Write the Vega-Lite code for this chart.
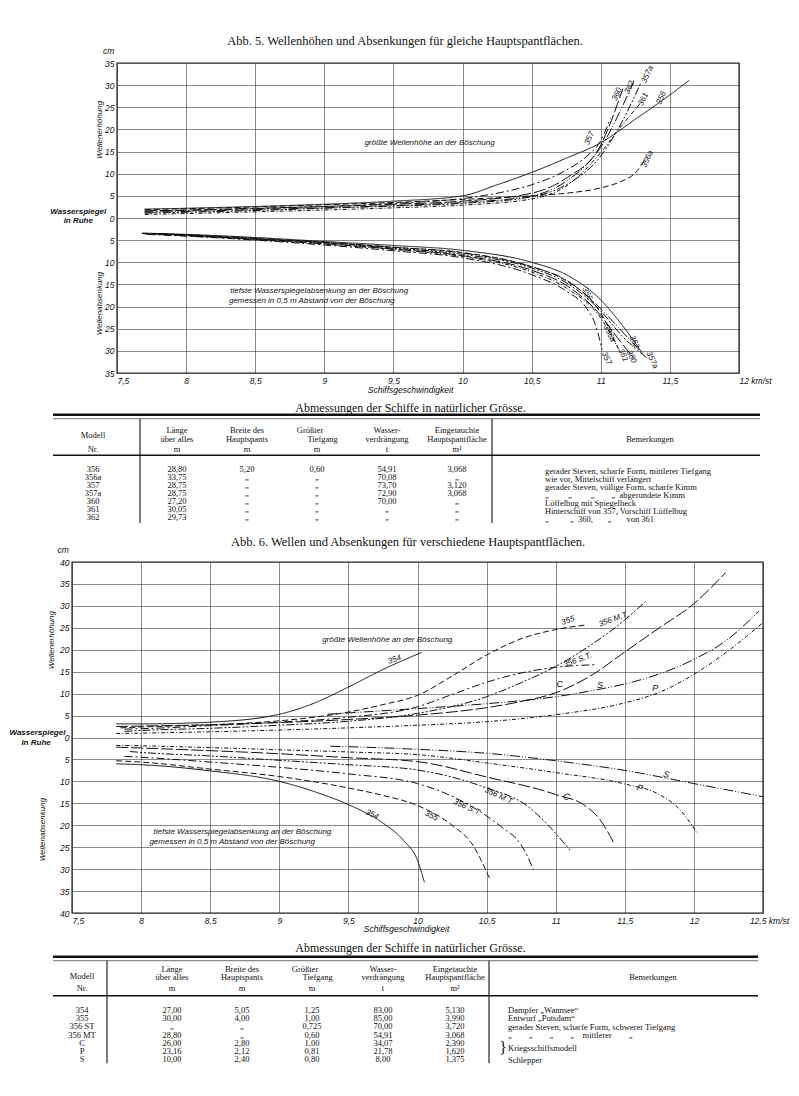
{
"$schema":"https://vega.github.io/schema/vega-lite/v6.json",
"background":"white","padding":0,"spacing":0,"bounds":"flush",
"config":{"view":{"stroke":null},
"title":{"font":"Liberation Serif","fontSize":12.5,"fontWeight":"normal","color":"#111"},
"axis":{"grid":true,"gridColor":"#3a3a3a","gridWidth":0.6,"domain":false,"ticks":false,"labelFont":"Liberation Sans","labelFontStyle":"italic","labelFontSize":8.5,"labelColor":"#111","labelPadding":3,"titleFont":"Liberation Sans","titleFontStyle":"italic","titleFontWeight":"normal","titleFontSize":8.5,"titleColor":"#111"},
"text":{"font":"Liberation Sans","fontStyle":"italic","fontSize":8,"color":"#111"}},
"datasets":{
"c1":[
{"m":"356","p":"u","v":7.7,"h":2.0},{"m":"356","p":"u","v":8,"h":2.2},{"m":"356","p":"u","v":8.5,"h":2.6},{"m":"356","p":"u","v":9,"h":3.1},{"m":"356","p":"u","v":9.5,"h":3.8},{"m":"356","p":"u","v":10,"h":5.0},{"m":"356","p":"u","v":10.25,"h":7.5},{"m":"356","p":"u","v":10.5,"h":10.3},{"m":"356","p":"u","v":10.75,"h":13.5},{"m":"356","p":"u","v":11,"h":17.0},{"m":"356","p":"u","v":11.25,"h":22.3},{"m":"356","p":"u","v":11.5,"h":27.8},{"m":"356","p":"u","v":11.64,"h":31.1},
{"m":"356a","p":"u","v":7.7,"h":1.9},{"m":"356a","p":"u","v":8,"h":2.1},{"m":"356a","p":"u","v":8.5,"h":2.5},{"m":"356a","p":"u","v":9,"h":3.0},{"m":"356a","p":"u","v":9.5,"h":3.5},{"m":"356a","p":"u","v":10,"h":4.2},{"m":"356a","p":"u","v":10.5,"h":5.0},{"m":"356a","p":"u","v":10.75,"h":5.6},{"m":"356a","p":"u","v":11,"h":6.8},{"m":"356a","p":"u","v":11.15,"h":8.3},{"m":"356a","p":"u","v":11.25,"h":10.2},{"m":"356a","p":"u","v":11.33,"h":13.8},
{"m":"357","p":"u","v":7.7,"h":1.5},{"m":"357","p":"u","v":8,"h":1.7},{"m":"357","p":"u","v":8.5,"h":2.1},{"m":"357","p":"u","v":9,"h":2.6},{"m":"357","p":"u","v":9.5,"h":3.3},{"m":"357","p":"u","v":10,"h":4.4},{"m":"357","p":"u","v":10.25,"h":5.6},{"m":"357","p":"u","v":10.5,"h":7.5},{"m":"357","p":"u","v":10.75,"h":10.8},{"m":"357","p":"u","v":10.9,"h":14.0},{"m":"357","p":"u","v":11,"h":17.5},{"m":"357","p":"u","v":11.07,"h":22.5},
{"m":"357a","p":"u","v":7.7,"h":1.1},{"m":"357a","p":"u","v":8,"h":1.3},{"m":"357a","p":"u","v":8.5,"h":1.7},{"m":"357a","p":"u","v":9,"h":2.2},{"m":"357a","p":"u","v":9.5,"h":2.7},{"m":"357a","p":"u","v":10,"h":3.3},{"m":"357a","p":"u","v":10.5,"h":4.8},{"m":"357a","p":"u","v":10.75,"h":7.5},{"m":"357a","p":"u","v":11,"h":14.0},{"m":"357a","p":"u","v":11.15,"h":21.5},{"m":"357a","p":"u","v":11.29,"h":30.5},
{"m":"360","p":"u","v":7.7,"h":1.6},{"m":"360","p":"u","v":8,"h":1.8},{"m":"360","p":"u","v":8.5,"h":2.2},{"m":"360","p":"u","v":9,"h":2.6},{"m":"360","p":"u","v":9.5,"h":3.1},{"m":"360","p":"u","v":10,"h":3.8},{"m":"360","p":"u","v":10.5,"h":5.6},{"m":"360","p":"u","v":10.75,"h":9.0},{"m":"360","p":"u","v":11,"h":16.5},{"m":"360","p":"u","v":11.16,"h":29.2},
{"m":"361","p":"u","v":7.7,"h":0.8},{"m":"361","p":"u","v":8,"h":1.0},{"m":"361","p":"u","v":8.5,"h":1.4},{"m":"361","p":"u","v":9,"h":1.8},{"m":"361","p":"u","v":9.5,"h":2.3},{"m":"361","p":"u","v":10,"h":2.9},{"m":"361","p":"u","v":10.5,"h":4.3},{"m":"361","p":"u","v":10.75,"h":7.2},{"m":"361","p":"u","v":11,"h":14.8},{"m":"361","p":"u","v":11.15,"h":20.8},{"m":"361","p":"u","v":11.3,"h":26.4},
{"m":"362","p":"u","v":7.7,"h":1.3},{"m":"362","p":"u","v":8,"h":1.5},{"m":"362","p":"u","v":8.5,"h":1.9},{"m":"362","p":"u","v":9,"h":2.3},{"m":"362","p":"u","v":9.5,"h":2.8},{"m":"362","p":"u","v":10,"h":3.5},{"m":"362","p":"u","v":10.5,"h":5.0},{"m":"362","p":"u","v":10.75,"h":8.3},{"m":"362","p":"u","v":11,"h":16.0},{"m":"362","p":"u","v":11.24,"h":31.0},
{"m":"356","p":"d","v":7.68,"h":-3.4},{"m":"356","p":"d","v":8,"h":-3.7},{"m":"356","p":"d","v":8.5,"h":-4.4},{"m":"356","p":"d","v":9,"h":-5.3},{"m":"356","p":"d","v":9.5,"h":-6.2},{"m":"356","p":"d","v":10,"h":-7.3},{"m":"356","p":"d","v":10.5,"h":-10.0},{"m":"356","p":"d","v":10.75,"h":-12.8},{"m":"356","p":"d","v":11,"h":-18.5},{"m":"356","p":"d","v":11.15,"h":-24.0},{"m":"356","p":"d","v":11.3,"h":-30.5},
{"m":"356a","p":"d","v":7.68,"h":-3.5},{"m":"356a","p":"d","v":8,"h":-3.8},{"m":"356a","p":"d","v":8.5,"h":-4.6},{"m":"356a","p":"d","v":9,"h":-5.5},{"m":"356a","p":"d","v":9.5,"h":-6.6},{"m":"356a","p":"d","v":10,"h":-7.8},{"m":"356a","p":"d","v":10.5,"h":-11.0},{"m":"356a","p":"d","v":10.75,"h":-14.2},{"m":"356a","p":"d","v":11,"h":-21.5},{"m":"356a","p":"d","v":11.12,"h":-29.0},
{"m":"357","p":"d","v":7.72,"h":-3.7},{"m":"357","p":"d","v":8,"h":-4.1},{"m":"357","p":"d","v":8.5,"h":-5.0},{"m":"357","p":"d","v":9,"h":-6.1},{"m":"357","p":"d","v":9.5,"h":-7.4},{"m":"357","p":"d","v":10,"h":-9.0},{"m":"357","p":"d","v":10.5,"h":-12.8},{"m":"357","p":"d","v":10.75,"h":-16.5},{"m":"357","p":"d","v":10.9,"h":-20.5},{"m":"357","p":"d","v":10.96,"h":-24.0},{"m":"357","p":"d","v":11.01,"h":-29.8},
{"m":"357a","p":"d","v":7.75,"h":-3.5},{"m":"357a","p":"d","v":8,"h":-3.9},{"m":"357a","p":"d","v":8.5,"h":-4.7},{"m":"357a","p":"d","v":9,"h":-5.6},{"m":"357a","p":"d","v":9.5,"h":-6.8},{"m":"357a","p":"d","v":10,"h":-8.2},{"m":"357a","p":"d","v":10.5,"h":-11.3},{"m":"357a","p":"d","v":10.75,"h":-14.6},{"m":"357a","p":"d","v":11,"h":-21.0},{"m":"357a","p":"d","v":11.15,"h":-26.5},{"m":"357a","p":"d","v":11.33,"h":-31.5},
{"m":"360","p":"d","v":7.7,"h":-3.6},{"m":"360","p":"d","v":8,"h":-4.0},{"m":"360","p":"d","v":8.5,"h":-4.8},{"m":"360","p":"d","v":9,"h":-5.8},{"m":"360","p":"d","v":9.5,"h":-7.0},{"m":"360","p":"d","v":10,"h":-8.5},{"m":"360","p":"d","v":10.5,"h":-11.8},{"m":"360","p":"d","v":10.75,"h":-15.2},{"m":"360","p":"d","v":11,"h":-22.0},{"m":"360","p":"d","v":11.12,"h":-27.0},{"m":"360","p":"d","v":11.24,"h":-31.7},
{"m":"361","p":"d","v":7.78,"h":-3.6},{"m":"361","p":"d","v":8,"h":-4.0},{"m":"361","p":"d","v":8.5,"h":-4.9},{"m":"361","p":"d","v":9,"h":-5.9},{"m":"361","p":"d","v":9.5,"h":-7.1},{"m":"361","p":"d","v":10,"h":-8.7},{"m":"361","p":"d","v":10.5,"h":-12.2},{"m":"361","p":"d","v":10.75,"h":-15.8},{"m":"361","p":"d","v":11,"h":-22.6},{"m":"361","p":"d","v":11.14,"h":-30.3},
{"m":"362","p":"d","v":7.8,"h":-3.5},{"m":"362","p":"d","v":8,"h":-3.8},{"m":"362","p":"d","v":8.5,"h":-4.6},{"m":"362","p":"d","v":9,"h":-5.5},{"m":"362","p":"d","v":9.5,"h":-6.6},{"m":"362","p":"d","v":10,"h":-7.9},{"m":"362","p":"d","v":10.5,"h":-11.0},{"m":"362","p":"d","v":10.75,"h":-14.0},{"m":"362","p":"d","v":11,"h":-20.5},{"m":"362","p":"d","v":11.15,"h":-25.5},{"m":"362","p":"d","v":11.28,"h":-29.8}
],
"c1lab":[
{"m":"357","p":"u","v":10.92,"h":18.0},{"m":"360","p":"u","v":11.12,"h":27.9},{"m":"362","p":"u","v":11.21,"h":29.5},{"m":"357a","p":"u","v":11.34,"h":32.4},{"m":"361","p":"u","v":11.31,"h":26.8},{"m":"356","p":"u","v":11.44,"h":27.1},{"m":"356a","p":"u","v":11.34,"h":13.3},
{"m":"356","p":"d","v":10.9,"h":-17.1},{"m":"356a","p":"d","v":11.06,"h":-26.1},{"m":"357","p":"d","v":11.04,"h":-31.7},{"m":"361","p":"d","v":11.16,"h":-31.0},{"m":"360","p":"d","v":11.22,"h":-31.3},{"m":"362","p":"d","v":11.24,"h":-28.0},{"m":"357a","p":"d","v":11.37,"h":-32.1}
],
"ann1":[
{"t":"größte Wellenhöhe an der Böschung","v":9.29,"h":16.9},
{"t":"tiefste Wasserspiegelabsenkung an der Böschung","v":8.32,"h":-16.4},
{"t":"gemessen in 0,5 m Abstand von der Böschung","v":8.31,"h":-18.7}
],
"side1":[
{"k":"cm","t":"cm","v":7.44,"h":37.6},
{"k":"ws","t":"Wasserspiegel","v":7.22,"h":1.4},
{"k":"ws","t":"in Ruhe","v":7.22,"h":-0.6},
{"k":"rot","t":"Wellenerhöhung","v":7.377,"h":19.9},
{"k":"rot","t":"Wellenabsenkung","v":7.377,"h":-19.3}
],
"c2":[
{"m":"354","p":"u","v":7.82,"h":3.1},{"m":"354","p":"u","v":8,"h":3.1},{"m":"354","p":"u","v":8.5,"h":3.5},{"m":"354","p":"u","v":9,"h":5.3},{"m":"354","p":"u","v":9.25,"h":7.8},{"m":"354","p":"u","v":9.5,"h":11.5},{"m":"354","p":"u","v":9.75,"h":15.5},{"m":"354","p":"u","v":10.03,"h":19.4},
{"m":"355","p":"u","v":7.85,"h":2.2},{"m":"355","p":"u","v":8,"h":2.4},{"m":"355","p":"u","v":8.5,"h":2.9},{"m":"355","p":"u","v":9,"h":3.8},{"m":"355","p":"u","v":9.5,"h":5.8},{"m":"355","p":"u","v":9.75,"h":7.5},{"m":"355","p":"u","v":10,"h":9.6},{"m":"355","p":"u","v":10.25,"h":14.0},{"m":"355","p":"u","v":10.5,"h":18.8},{"m":"355","p":"u","v":10.75,"h":22.5},{"m":"355","p":"u","v":11,"h":24.6},{"m":"355","p":"u","v":11.23,"h":25.7},
{"m":"356 S.T.","p":"u","v":7.88,"h":1.9},{"m":"356 S.T.","p":"u","v":8,"h":2.0},{"m":"356 S.T.","p":"u","v":8.5,"h":2.7},{"m":"356 S.T.","p":"u","v":9,"h":3.5},{"m":"356 S.T.","p":"u","v":9.5,"h":4.6},{"m":"356 S.T.","p":"u","v":10,"h":7.0},{"m":"356 S.T.","p":"u","v":10.25,"h":9.8},{"m":"356 S.T.","p":"u","v":10.5,"h":12.6},{"m":"356 S.T.","p":"u","v":10.75,"h":14.7},{"m":"356 S.T.","p":"u","v":11,"h":16.0},{"m":"356 S.T.","p":"u","v":11.3,"h":16.6},
{"m":"356 M.T.","p":"u","v":7.88,"h":1.4},{"m":"356 M.T.","p":"u","v":8,"h":1.6},{"m":"356 M.T.","p":"u","v":8.5,"h":2.1},{"m":"356 M.T.","p":"u","v":9,"h":2.8},{"m":"356 M.T.","p":"u","v":9.5,"h":3.7},{"m":"356 M.T.","p":"u","v":10,"h":5.5},{"m":"356 M.T.","p":"u","v":10.5,"h":9.3},{"m":"356 M.T.","p":"u","v":10.75,"h":12.5},{"m":"356 M.T.","p":"u","v":11,"h":16.2},{"m":"356 M.T.","p":"u","v":11.25,"h":21.0},{"m":"356 M.T.","p":"u","v":11.5,"h":26.8},{"m":"356 M.T.","p":"u","v":11.65,"h":31.0},
{"m":"C","p":"u","v":7.82,"h":2.5},{"m":"C","p":"u","v":8,"h":2.6},{"m":"C","p":"u","v":8.5,"h":2.9},{"m":"C","p":"u","v":9,"h":3.4},{"m":"C","p":"u","v":9.5,"h":4.1},{"m":"C","p":"u","v":10,"h":5.1},{"m":"C","p":"u","v":10.5,"h":6.8},{"m":"C","p":"u","v":10.75,"h":8.2},{"m":"C","p":"u","v":11,"h":10.2},{"m":"C","p":"u","v":11.25,"h":14.0},{"m":"C","p":"u","v":11.5,"h":19.5},{"m":"C","p":"u","v":11.75,"h":25.0},{"m":"C","p":"u","v":12,"h":30.5},{"m":"C","p":"u","v":12.23,"h":37.6},
{"m":"P","p":"u","v":7.82,"h":0.9},{"m":"P","p":"u","v":8,"h":1.0},{"m":"P","p":"u","v":8.5,"h":1.3},{"m":"P","p":"u","v":9,"h":1.7},{"m":"P","p":"u","v":9.5,"h":2.2},{"m":"P","p":"u","v":10,"h":2.8},{"m":"P","p":"u","v":10.5,"h":3.6},{"m":"P","p":"u","v":11,"h":5.2},{"m":"P","p":"u","v":11.5,"h":7.9},{"m":"P","p":"u","v":11.75,"h":10.3},{"m":"P","p":"u","v":12,"h":14.4},{"m":"P","p":"u","v":12.25,"h":19.8},{"m":"P","p":"u","v":12.5,"h":26.2},
{"m":"S","p":"u","v":9.35,"h":5.3},{"m":"S","p":"u","v":9.5,"h":5.6},{"m":"S","p":"u","v":10,"h":6.6},{"m":"S","p":"u","v":10.5,"h":7.7},{"m":"S","p":"u","v":11,"h":9.3},{"m":"S","p":"u","v":11.3,"h":10.9},{"m":"S","p":"u","v":11.5,"h":12.2},{"m":"S","p":"u","v":11.75,"h":14.5},{"m":"S","p":"u","v":12,"h":17.8},{"m":"S","p":"u","v":12.25,"h":22.5},{"m":"S","p":"u","v":12.47,"h":28.8},
{"m":"354","p":"d","v":7.82,"h":-6.0},{"m":"354","p":"d","v":8,"h":-6.2},{"m":"354","p":"d","v":8.5,"h":-7.6},{"m":"354","p":"d","v":9,"h":-10.0},{"m":"354","p":"d","v":9.25,"h":-12.3},{"m":"354","p":"d","v":9.5,"h":-15.3},{"m":"354","p":"d","v":9.75,"h":-19.5},{"m":"354","p":"d","v":9.9,"h":-23.5},{"m":"354","p":"d","v":10,"h":-28.0},{"m":"354","p":"d","v":10.05,"h":-33.0},
{"m":"355","p":"d","v":7.82,"h":-5.3},{"m":"355","p":"d","v":8,"h":-5.6},{"m":"355","p":"d","v":8.5,"h":-7.2},{"m":"355","p":"d","v":9,"h":-8.9},{"m":"355","p":"d","v":9.5,"h":-11.5},{"m":"355","p":"d","v":9.75,"h":-13.2},{"m":"355","p":"d","v":10,"h":-15.5},{"m":"355","p":"d","v":10.25,"h":-20.0},{"m":"355","p":"d","v":10.4,"h":-24.5},{"m":"355","p":"d","v":10.52,"h":-32.0},
{"m":"356 S.T.","p":"d","v":7.88,"h":-4.3},{"m":"356 S.T.","p":"d","v":8,"h":-4.5},{"m":"356 S.T.","p":"d","v":8.5,"h":-5.6},{"m":"356 S.T.","p":"d","v":9,"h":-6.8},{"m":"356 S.T.","p":"d","v":9.5,"h":-8.3},{"m":"356 S.T.","p":"d","v":10,"h":-10.5},{"m":"356 S.T.","p":"d","v":10.35,"h":-15.0},{"m":"356 S.T.","p":"d","v":10.6,"h":-20.2},{"m":"356 S.T.","p":"d","v":10.75,"h":-24.5},{"m":"356 S.T.","p":"d","v":10.84,"h":-30.1},
{"m":"356 M.T.","p":"d","v":7.92,"h":-3.2},{"m":"356 M.T.","p":"d","v":8,"h":-3.4},{"m":"356 M.T.","p":"d","v":8.5,"h":-4.2},{"m":"356 M.T.","p":"d","v":9,"h":-5.2},{"m":"356 M.T.","p":"d","v":9.5,"h":-6.2},{"m":"356 M.T.","p":"d","v":10,"h":-7.4},{"m":"356 M.T.","p":"d","v":10.5,"h":-11.5},{"m":"356 M.T.","p":"d","v":10.79,"h":-15.5},{"m":"356 M.T.","p":"d","v":10.96,"h":-20.5},{"m":"356 M.T.","p":"d","v":11.11,"h":-25.9},
{"m":"C","p":"d","v":7.82,"h":-2.2},{"m":"C","p":"d","v":8,"h":-2.4},{"m":"C","p":"d","v":8.5,"h":-3.0},{"m":"C","p":"d","v":9,"h":-3.7},{"m":"C","p":"d","v":9.5,"h":-4.6},{"m":"C","p":"d","v":10,"h":-5.5},{"m":"C","p":"d","v":10.5,"h":-9.0},{"m":"C","p":"d","v":11,"h":-13.0},{"m":"C","p":"d","v":11.22,"h":-15.7},{"m":"C","p":"d","v":11.32,"h":-18.7},{"m":"C","p":"d","v":11.42,"h":-24.0},
{"m":"P","p":"d","v":7.82,"h":-1.8},{"m":"P","p":"d","v":8,"h":-1.9},{"m":"P","p":"d","v":8.5,"h":-2.3},{"m":"P","p":"d","v":9,"h":-2.8},{"m":"P","p":"d","v":9.5,"h":-3.3},{"m":"P","p":"d","v":10,"h":-3.9},{"m":"P","p":"d","v":10.5,"h":-5.8},{"m":"P","p":"d","v":11,"h":-8.0},{"m":"P","p":"d","v":11.5,"h":-10.6},{"m":"P","p":"d","v":11.75,"h":-13.0},{"m":"P","p":"d","v":11.9,"h":-16.5},{"m":"P","p":"d","v":12.02,"h":-21.6},
{"m":"S","p":"d","v":9.37,"h":-2.0},{"m":"S","p":"d","v":9.5,"h":-2.1},{"m":"S","p":"d","v":10,"h":-2.7},{"m":"S","p":"d","v":10.5,"h":-3.6},{"m":"S","p":"d","v":11,"h":-5.3},{"m":"S","p":"d","v":11.5,"h":-7.5},{"m":"S","p":"d","v":12,"h":-10.5},{"m":"S","p":"d","v":12.5,"h":-13.5}
],
"c2lab":[
{"m":"354","p":"u","v":9.835,"h":17.7},{"m":"355","p":"u","v":11.09,"h":26.6},{"m":"356 M.T.","p":"u","v":11.42,"h":26.9},{"m":"356 S.T.","p":"u","v":11.16,"h":17.6},{"m":"C","p":"u","v":11.03,"h":12.1},{"m":"S","p":"u","v":11.32,"h":11.9},{"m":"P","p":"u","v":11.72,"h":11.3},
{"m":"354","p":"d","v":9.67,"h":-17.6},{"m":"355","p":"d","v":10.1,"h":-17.9},{"m":"356 S.T.","p":"d","v":10.36,"h":-16.0},{"m":"356 M.T.","p":"d","v":10.59,"h":-13.4},{"m":"C","p":"d","v":11.08,"h":-13.5},{"m":"P","p":"d","v":11.61,"h":-11.5},{"m":"S","p":"d","v":11.8,"h":-8.4}
],
"ann2":[
{"t":"größte Wellenhöhe an der Böschung","v":9.31,"h":22.2},
{"t":"tiefste Wasserspiegelabsenkung an der Böschung","v":8.09,"h":-21.6},
{"t":"gemessen in 0,5 m Abstand von der Böschung","v":8.06,"h":-23.9}
],
"side2":[
{"k":"cm","t":"cm","v":7.437,"h":42.7},
{"k":"ws","t":"Wasserspiegel","v":7.25,"h":1.1},
{"k":"ws","t":"in Ruhe","v":7.24,"h":-1.2},
{"k":"rot","t":"Wellenerhöhung","v":7.353,"h":22.2},
{"k":"rot","t":"Wellenabsenkung","v":7.29,"h":-21.0}
],
"hdr":[
{"c":1,"r":4,"t":"Modell"},{"c":1,"r":6,"t":"Nr."},
{"c":2,"r":3,"t":"Länge"},{"c":2,"r":5,"t":"über alles"},{"c":2,"r":6,"t":"m"},
{"c":3,"r":3,"t":"Breite des"},{"c":3,"r":5,"t":"Hauptspants"},{"c":3,"r":6,"t":"m"},
{"c":3.9,"r":3,"t":"Größter"},{"c":4.08,"r":5,"t":"Tiefgang"},{"c":4,"r":6,"t":"m"},
{"c":5,"r":3,"t":"Wasser-"},{"c":5,"r":5,"t":"verdrängung"},{"c":5,"r":6,"t":"t"},
{"c":6,"r":3,"t":"Eingetauchte"},{"c":6,"r":5,"t":"Hauptspantfläche"},{"c":6,"r":6,"t":"m²"},
{"c":7.5,"r":5,"t":"Bemerkungen"}
],
"tab1":[
{"r":8,"mod":"356","len":"28,80","br":"5,20","tg":"0,60","wv":"54,91","hs":"3,068","bem":"gerader Steven, scharfe Form, mittlerer Tiefgang"},
{"r":9,"mod":"356a","len":"33,75","br":"„","tg":"„","wv":"70,08","hs":"„","bem":"wie vor, Mittelschiff verlängert"},
{"r":10,"mod":"357","len":"28,75","br":"„","tg":"„","wv":"73,70","hs":"3,120","bem":"gerader Steven, völlige Form, scharfe Kimm"},
{"r":11,"mod":"357a","len":"28,75","br":"„","tg":"„","wv":"72,90","hs":"3,068","bem":"\u00a0\u00a0\u00a0„\u00a0\u00a0\u00a0\u00a0\u00a0\u00a0\u00a0\u00a0\u00a0„\u00a0\u00a0\u00a0\u00a0\u00a0\u00a0\u00a0\u00a0\u00a0„\u00a0\u00a0\u00a0\u00a0\u00a0\u00a0\u00a0\u00a0„\u00a0\u00a0abgerundete Kimm"},
{"r":12,"mod":"360","len":"27,20","br":"„","tg":"„","wv":"70,00","hs":"„","bem":"Löffelbug mit Spiegelheck"},
{"r":13,"mod":"361","len":"30,05","br":"„","tg":"„","wv":"„","hs":"„","bem":"Hinterschiff von 357, Vorschiff Löffelbug"},
{"r":14,"mod":"362","len":"29,73","br":"„","tg":"„","wv":"„","hs":"„","bem":"\u00a0\u00a0„\u00a0\u00a0\u00a0\u00a0\u00a0\u00a0\u00a0\u00a0\u00a0\u00a0„\u00a0\u00a0360,\u00a0\u00a0\u00a0\u00a0\u00a0\u00a0\u00a0„\u00a0\u00a0\u00a0\u00a0\u00a0\u00a0\u00a0von 361"}
],
"tab2":[
{"r":8,"mod":"354","len":"27,00","br":"5,05","tg":"1,25","wv":"83,00","hs":"5,130"},
{"r":9,"mod":"355","len":"30,00","br":"4,00","tg":"1,00","wv":"85,00","hs":"3,990"},
{"r":10,"mod":"356 ST","len":"„","br":"„","tg":"0,725","wv":"70,00","hs":"3,720"},
{"r":11,"mod":"356 MT","len":"28,80","br":"„","tg":"0,60","wv":"54,91","hs":"3,068"},
{"r":12,"mod":"C","len":"26,00","br":"2,80","tg":"1,00","wv":"34,07","hs":"2,390"},
{"r":13,"mod":"P","len":"23,16","br":"2,12","tg":"0,81","wv":"21,78","hs":"1,620"},
{"r":14,"mod":"S","len":"10,00","br":"2,40","tg":"0,80","wv":"8,00","hs":"1,375"}
],
"bem2":[
{"r":8,"t":"Dampfer „Wannsee“"},
{"r":9,"t":"Entwurf „Potsdam“"},
{"r":10.1,"t":"gerader Steven, scharfe Form, schwerer Tiefgang"},
{"r":11.1,"t":"\u00a0\u00a0\u00a0„\u00a0\u00a0\u00a0\u00a0\u00a0\u00a0\u00a0\u00a0„\u00a0\u00a0\u00a0\u00a0\u00a0\u00a0\u00a0\u00a0„\u00a0\u00a0\u00a0\u00a0\u00a0\u00a0\u00a0\u00a0„\u00a0\u00a0\u00a0\u00a0mittlerer\u00a0\u00a0\u00a0\u00a0\u00a0\u00a0\u00a0\u00a0„"},
{"r":12.6,"t":"Kriegsschiffsmodell"},
{"r":14.2,"t":"Schlepper"}
]
},
"vconcat":[
{"width":799,"height":63,"title":{"text":"Abb. 5.  Wellenhöhen und Absenkungen für gleiche Hauptspantflächen.","orient":"top","anchor":"middle","frame":"group","offset":-53,"baseline":"middle","dx":5.5},"data":{"values":[{}]},"mark":{"type":"point","opacity":0}},
{"width":799,"height":310,
  "layer":[
   {"data":{"name":"c1"},"mark":{"type":"line","interpolate":"monotone","color":"#111","strokeWidth":1},
    "encoding":{
     "x":{"field":"v","type":"quantitative","scale":{"domain":[7.5,12],"range":[117,739],"nice":false,"zero":false},
      "axis":{"values":[7.5,8,8.5,9,9.5,10,10.5,11,11.5,12],"tickCount":30,"labelExpr":"datum.value == 12 ? '12 km/st' : replace(format(datum.value, '.1~f'), '.', ',')","labelAlign":{"condition":{"test":"datum.value == 7.5 || datum.value == 12","value":"left"},"value":"center"},"labelOverlap":false,"labelFlush":false,"title":"Schiffsgeschwindigkeit","titleX":410,"titleY":16,"titleBaseline":"middle"}},
     "y":{"field":"h","type":"quantitative","scale":{"domain":[-35,35],"nice":false,"zero":false},
      "axis":{"values":[-35,-30,-25,-20,-15,-10,-5,0,5,10,15,20,25,30,35],"tickCount":30,"labelExpr":"abs(datum.value)","labelOverlap":false,"title":null,"offset":-117}},
     "strokeDash":{"field":"m","type":"nominal","scale":{"domain":["356","356a","357","357a","360","361","362"],"range":[[1,0],[6,3],[8,3,2,3],[8,2,2,2,2,2],[12,3],[4,2,1,2],[10,2,1,2,1,2]]},"legend":null},
     "detail":{"field":"p"}}},
   {"data":{"values":[{}]},"mark":{"type":"rect","fillOpacity":0,"stroke":"#222","strokeWidth":1.2},"encoding":{"x":{"datum":7.5,"type":"quantitative"},"x2":{"datum":12},"y":{"datum":-35,"type":"quantitative"},"y2":{"datum":35}}},
   {"data":{"name":"c1lab"},"transform":[{"filter":"datum.p == 'u'"}],"mark":{"type":"text","angle":-65},"encoding":{"x":{"field":"v","type":"quantitative"},"y":{"field":"h","type":"quantitative"},"text":{"field":"m"}}},
   {"data":{"name":"c1lab"},"transform":[{"filter":"datum.p == 'd'"}],"mark":{"type":"text","angle":65},"encoding":{"x":{"field":"v","type":"quantitative"},"y":{"field":"h","type":"quantitative"},"text":{"field":"m"}}},
   {"data":{"name":"ann1"},"mark":{"type":"text","align":"left"},"encoding":{"x":{"field":"v","type":"quantitative"},"y":{"field":"h","type":"quantitative"},"text":{"field":"t"}}},
   {"data":{"name":"side1"},"transform":[{"filter":"datum.k == 'cm'"}],"mark":{"type":"text","fontSize":8.5},"encoding":{"x":{"field":"v","type":"quantitative"},"y":{"field":"h","type":"quantitative"},"text":{"field":"t"}}},
   {"data":{"name":"side1"},"transform":[{"filter":"datum.k == 'ws'"}],"mark":{"type":"text","fontWeight":"bold","fontSize":8},"encoding":{"x":{"field":"v","type":"quantitative"},"y":{"field":"h","type":"quantitative"},"text":{"field":"t"}}},
   {"data":{"name":"side1"},"transform":[{"filter":"datum.k == 'rot'"}],"mark":{"type":"text","angle":270,"fontSize":8},"encoding":{"x":{"field":"v","type":"quantitative"},"y":{"field":"h","type":"quantitative"},"text":{"field":"t"}}}
  ]},
{"width":799,"height":160,
 "title":{"text":"Abmessungen der Schiffe in natürlicher Grösse.","orient":"top","anchor":"middle","frame":"group","offset":-46.5,"baseline":"middle","dx":11,"fontSize":12},
 "layer":[
  {"data":{"values":[{}]},"mark":{"type":"rule","strokeWidth":2.6,"color":"#111"},"encoding":{
    "x":{"datum":0,"type":"quantitative","scale":{"domain":[0,1,1.5,2,3,4,5,6,6.5,7,7.5,8],"range":[53,93,140,177,247,317,387,457,492,545,650,760],"nice":false,"zero":false},"axis":null},
    "x2":{"datum":8},
    "y":{"datum":1,"type":"quantitative","scale":{"domain":[0,1,2,3,4,5,6,7,8,14,15],"range":[35,41.7,45.7,57,61.7,65.5,76,82.3,95.7,144.3,150],"nice":false,"zero":false},"axis":null}}},
  {"data":{"values":[{}]},"mark":{"type":"rule","strokeWidth":0.7,"color":"#333"},"encoding":{"x":{"datum":0,"type":"quantitative","axis":null},"x2":{"datum":8},"y":{"datum":2,"type":"quantitative","axis":null}}},
  {"data":{"values":[{}]},"mark":{"type":"rule","strokeWidth":1.4,"color":"#111"},"encoding":{"x":{"datum":0,"type":"quantitative","axis":null},"x2":{"datum":8},"y":{"datum":7,"type":"quantitative","axis":null}}},
  {"data":{"values":[{}]},"mark":{"type":"rule","strokeWidth":1.1,"color":"#111"},"encoding":{"x":{"datum":1.5,"type":"quantitative","axis":null},"y":{"datum":2,"type":"quantitative","axis":null},"y2":{"datum":15}}},
  {"data":{"values":[{}]},"mark":{"type":"rule","strokeWidth":1.1,"color":"#111"},"encoding":{"x":{"datum":6.5,"type":"quantitative","axis":null},"y":{"datum":2,"type":"quantitative","axis":null},"y2":{"datum":15}}},
  {"data":{"name":"hdr"},"mark":{"type":"text","font":"Liberation Serif","fontStyle":"normal","fontSize":8.5,"align":"center","baseline":"middle"},"encoding":{"x":{"field":"c","type":"quantitative","axis":null},"y":{"field":"r","type":"quantitative","axis":null},"text":{"field":"t"}}},
  {"data":{"name":"tab1"},"mark":{"type":"text","font":"Liberation Serif","fontStyle":"normal","fontSize":8.5,"align":"center","baseline":"middle"},"encoding":{"x":{"datum":1,"type":"quantitative","axis":null},"y":{"field":"r","type":"quantitative","axis":null},"text":{"field":"mod"}}},
  {"data":{"name":"tab1"},"mark":{"type":"text","font":"Liberation Serif","fontStyle":"normal","fontSize":8.5,"align":"center","baseline":"middle"},"encoding":{"x":{"datum":2,"type":"quantitative","axis":null},"y":{"field":"r","type":"quantitative","axis":null},"text":{"field":"len"}}},
  {"data":{"name":"tab1"},"mark":{"type":"text","font":"Liberation Serif","fontStyle":"normal","fontSize":8.5,"align":"center","baseline":"middle"},"encoding":{"x":{"datum":3,"type":"quantitative","axis":null},"y":{"field":"r","type":"quantitative","axis":null},"text":{"field":"br"}}},
  {"data":{"name":"tab1"},"mark":{"type":"text","font":"Liberation Serif","fontStyle":"normal","fontSize":8.5,"align":"center","baseline":"middle"},"encoding":{"x":{"datum":4,"type":"quantitative","axis":null},"y":{"field":"r","type":"quantitative","axis":null},"text":{"field":"tg"}}},
  {"data":{"name":"tab1"},"mark":{"type":"text","font":"Liberation Serif","fontStyle":"normal","fontSize":8.5,"align":"center","baseline":"middle"},"encoding":{"x":{"datum":5,"type":"quantitative","axis":null},"y":{"field":"r","type":"quantitative","axis":null},"text":{"field":"wv"}}},
  {"data":{"name":"tab1"},"mark":{"type":"text","font":"Liberation Serif","fontStyle":"normal","fontSize":8.5,"align":"center","baseline":"middle"},"encoding":{"x":{"datum":6,"type":"quantitative","axis":null},"y":{"field":"r","type":"quantitative","axis":null},"text":{"field":"hs"}}},
  {"data":{"name":"tab1"},"mark":{"type":"text","font":"Liberation Serif","fontStyle":"normal","fontSize":8.5,"align":"left","baseline":"middle","dy":2},"encoding":{"x":{"datum":7,"type":"quantitative","axis":null},"y":{"field":"r","type":"quantitative","axis":null},"text":{"field":"bem"}}}
 ]},
{"width":799,"height":29,"title":{"text":"Abb. 6.  Wellen und Absenkungen für verschiedene Hauptspantflächen.","orient":"top","anchor":"middle","frame":"group","offset":-21,"baseline":"middle","dx":8.5},"data":{"values":[{}]},"mark":{"type":"point","opacity":0}},
{"width":799,"height":351,
  "layer":[
   {"data":{"name":"c2"},"mark":{"type":"line","interpolate":"monotone","color":"#111","strokeWidth":1},
    "encoding":{
     "x":{"field":"v","type":"quantitative","scale":{"domain":[7.5,12.5],"range":[72,763],"nice":false,"zero":false},
      "axis":{"values":[7.5,8,8.5,9,9.5,10,10.5,11,11.5,12,12.5],"tickCount":30,"labelExpr":"datum.value == 12.5 ? '12,5 km/st' : replace(format(datum.value, '.1~f'), '.', ',')","labelAlign":{"condition":{"test":"datum.value == 7.5","value":"left"},"value":"center"},"labelOffset":{"condition":{"test":"datum.value == 12.5","value":6},"value":0},"labelOverlap":false,"labelFlush":false,"title":"Schiffsgeschwindigkeit","titleX":406,"titleY":15,"titleBaseline":"middle"}},
     "y":{"field":"h","type":"quantitative","scale":{"domain":[-40,40],"nice":false,"zero":false},
      "axis":{"values":[-40,-35,-30,-25,-20,-15,-10,-5,0,5,10,15,20,25,30,35,40],"tickCount":30,"labelExpr":"abs(datum.value)","labelOverlap":false,"title":null,"offset":-72}},
     "strokeDash":{"field":"m","type":"nominal","scale":{"domain":["354","355","356 S.T.","356 M.T.","C","P","S"],"range":[[1,0],[6,2,1.5,2],[7,2,1.5,2,1.5,2],[9,3],[11,3],[8,2,2,2],[14,2,2,2]]},"legend":null},
     "detail":{"field":"p"}}},
   {"data":{"values":[{}]},"mark":{"type":"rect","fillOpacity":0,"stroke":"#222","strokeWidth":1.2},"encoding":{"x":{"datum":7.5,"type":"quantitative"},"x2":{"datum":12.5},"y":{"datum":-40,"type":"quantitative"},"y2":{"datum":40}}},
   {"data":{"name":"c2lab"},"transform":[{"filter":"datum.p == 'u' && length(datum.m) > 1"}],"mark":{"type":"text","angle":-20},"encoding":{"x":{"field":"v","type":"quantitative"},"y":{"field":"h","type":"quantitative"},"text":{"field":"m"}}},
   {"data":{"name":"c2lab"},"transform":[{"filter":"datum.p == 'u' && length(datum.m) == 1"}],"mark":{"type":"text","angle":0,"fontSize":9},"encoding":{"x":{"field":"v","type":"quantitative"},"y":{"field":"h","type":"quantitative"},"text":{"field":"m"}}},
   {"data":{"name":"c2lab"},"transform":[{"filter":"datum.p == 'd' && length(datum.m) > 1"}],"mark":{"type":"text","angle":25},"encoding":{"x":{"field":"v","type":"quantitative"},"y":{"field":"h","type":"quantitative"},"text":{"field":"m"}}},
   {"data":{"name":"c2lab"},"transform":[{"filter":"datum.p == 'd' && length(datum.m) == 1"}],"mark":{"type":"text","angle":15,"fontSize":9},"encoding":{"x":{"field":"v","type":"quantitative"},"y":{"field":"h","type":"quantitative"},"text":{"field":"m"}}},
   {"data":{"name":"ann2"},"mark":{"type":"text","align":"left"},"encoding":{"x":{"field":"v","type":"quantitative"},"y":{"field":"h","type":"quantitative"},"text":{"field":"t"}}},
   {"data":{"name":"side2"},"transform":[{"filter":"datum.k == 'cm'"}],"mark":{"type":"text","fontSize":8.5},"encoding":{"x":{"field":"v","type":"quantitative"},"y":{"field":"h","type":"quantitative"},"text":{"field":"t"}}},
   {"data":{"name":"side2"},"transform":[{"filter":"datum.k == 'ws'"}],"mark":{"type":"text","fontWeight":"bold","fontSize":8},"encoding":{"x":{"field":"v","type":"quantitative"},"y":{"field":"h","type":"quantitative"},"text":{"field":"t"}}},
   {"data":{"name":"side2"},"transform":[{"filter":"datum.k == 'rot'"}],"mark":{"type":"text","angle":270,"fontSize":8},"encoding":{"x":{"field":"v","type":"quantitative"},"y":{"field":"h","type":"quantitative"},"text":{"field":"t"}}}
  ]},
{"width":799,"height":183,
 "title":{"text":"Abmessungen der Schiffe in natürlicher Grösse.","orient":"top","anchor":"middle","frame":"group","offset":-46.5,"baseline":"middle","dx":11,"fontSize":12},
 "layer":[
  {"data":{"values":[{}]},"mark":{"type":"rule","strokeWidth":2.6,"color":"#111"},"encoding":{
    "x":{"datum":0,"type":"quantitative","scale":{"domain":[0,1,1.5,2,3,4,5,6,6.5,7,7.5,8],"range":[53,82,107,172,242,312,383,455,489,508,653,758],"nice":false,"zero":false},"axis":null},
    "x2":{"datum":8},
    "y":{"datum":1,"type":"quantitative","scale":{"domain":[0,1,2,3,4,5,6,7,8,14,15],"range":[35,43.7,47.7,56,62.7,64.3,75.3,82.7,97,146.3,150.3],"nice":false,"zero":false},"axis":null}}},
  {"data":{"values":[{}]},"mark":{"type":"rule","strokeWidth":0.7,"color":"#333"},"encoding":{"x":{"datum":0,"type":"quantitative","axis":null},"x2":{"datum":8},"y":{"datum":2,"type":"quantitative","axis":null}}},
  {"data":{"values":[{}]},"mark":{"type":"rule","strokeWidth":1.4,"color":"#111"},"encoding":{"x":{"datum":0,"type":"quantitative","axis":null},"x2":{"datum":8},"y":{"datum":7,"type":"quantitative","axis":null}}},
  {"data":{"values":[{}]},"mark":{"type":"rule","strokeWidth":1.1,"color":"#111"},"encoding":{"x":{"datum":1.5,"type":"quantitative","axis":null},"y":{"datum":2,"type":"quantitative","axis":null},"y2":{"datum":15}}},
  {"data":{"values":[{}]},"mark":{"type":"rule","strokeWidth":1.1,"color":"#111"},"encoding":{"x":{"datum":6.5,"type":"quantitative","axis":null},"y":{"datum":2,"type":"quantitative","axis":null},"y2":{"datum":15}}},
  {"data":{"name":"hdr"},"mark":{"type":"text","font":"Liberation Serif","fontStyle":"normal","fontSize":8.5,"align":"center","baseline":"middle"},"encoding":{"x":{"field":"c","type":"quantitative","axis":null},"y":{"field":"r","type":"quantitative","axis":null},"text":{"field":"t"}}},
  {"data":{"name":"tab2"},"mark":{"type":"text","font":"Liberation Serif","fontStyle":"normal","fontSize":8.5,"align":"center","baseline":"middle"},"encoding":{"x":{"datum":1,"type":"quantitative","axis":null},"y":{"field":"r","type":"quantitative","axis":null},"text":{"field":"mod"}}},
  {"data":{"name":"tab2"},"mark":{"type":"text","font":"Liberation Serif","fontStyle":"normal","fontSize":8.5,"align":"center","baseline":"middle"},"encoding":{"x":{"datum":2,"type":"quantitative","axis":null},"y":{"field":"r","type":"quantitative","axis":null},"text":{"field":"len"}}},
  {"data":{"name":"tab2"},"mark":{"type":"text","font":"Liberation Serif","fontStyle":"normal","fontSize":8.5,"align":"center","baseline":"middle"},"encoding":{"x":{"datum":3,"type":"quantitative","axis":null},"y":{"field":"r","type":"quantitative","axis":null},"text":{"field":"br"}}},
  {"data":{"name":"tab2"},"mark":{"type":"text","font":"Liberation Serif","fontStyle":"normal","fontSize":8.5,"align":"center","baseline":"middle"},"encoding":{"x":{"datum":4,"type":"quantitative","axis":null},"y":{"field":"r","type":"quantitative","axis":null},"text":{"field":"tg"}}},
  {"data":{"name":"tab2"},"mark":{"type":"text","font":"Liberation Serif","fontStyle":"normal","fontSize":8.5,"align":"center","baseline":"middle"},"encoding":{"x":{"datum":5,"type":"quantitative","axis":null},"y":{"field":"r","type":"quantitative","axis":null},"text":{"field":"wv"}}},
  {"data":{"name":"tab2"},"mark":{"type":"text","font":"Liberation Serif","fontStyle":"normal","fontSize":8.5,"align":"center","baseline":"middle"},"encoding":{"x":{"datum":6,"type":"quantitative","axis":null},"y":{"field":"r","type":"quantitative","axis":null},"text":{"field":"hs"}}},
  {"data":{"name":"bem2"},"mark":{"type":"text","font":"Liberation Serif","fontStyle":"normal","fontSize":8.5,"align":"left","baseline":"middle"},"encoding":{"x":{"datum":7,"type":"quantitative","axis":null},"y":{"field":"r","type":"quantitative","axis":null},"text":{"field":"t"}}},
  {"data":{"values":[{}]},"mark":{"type":"text","font":"Liberation Serif","fontStyle":"normal","fontSize":16,"align":"right","baseline":"middle","dx":-1,"text":"}"},"encoding":{"x":{"datum":7,"type":"quantitative","axis":null},"y":{"datum":12.6,"type":"quantitative","axis":null}}}
 ]}
]
}
